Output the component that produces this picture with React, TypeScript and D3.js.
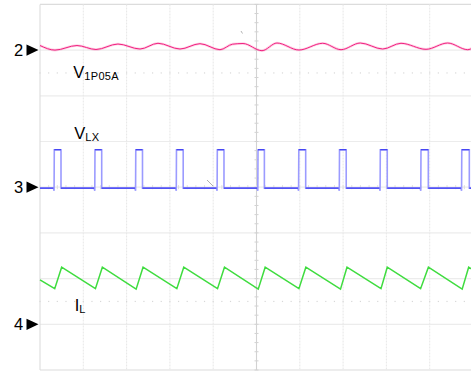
import React from "react";
import * as d3 from "d3";

// Screen: 10 horizontal divisions, 8 vertical divisions (values in divisions)
const channelLabels = ["2", "3", "4"];
const channelOffsets = [3, 0, -3];

// V1P05A ripple (pink) – extremes, relative to ch2 offset
const vOutTimes = [0, 0.346, 0.854, 1.293, 1.8, 2.31, 2.725, 3.233, 3.695, 4.157, 4.45, 4.688, 5.127, 5.473, 5.98, 6.529, 6.952, 7.397, 7.915, 8.337, 8.915, 9.415, 9.878, 10];
const vOutValues = [0.1, 0.0, 0.1, 0.013, 0.133, 0.024, 0.149, 0.024, 0.14, 0.009, 0.13, 0.144, -0.013, 0.155, 0.002, 0.149, 0.009, 0.155, 0.024, 0.149, 0.017, 0.155, 0.009, 0.05];

// VLX switch node (blue) – pulse edges
const pulseRise = [0.33, 1.27, 2.212, 3.152, 4.095, 5.035, 5.977, 6.917, 7.859, 8.799, 9.741];
const pulseFall = [0.485, 1.425, 2.367, 3.307, 4.249, 5.182, 6.136, 7.072, 8.02, 8.968, 9.915];
const vlxHigh = 0.82;
const vlxLow = -0.02;
const vlxDip = -0.08;

// IL inductor current (green) – triangle vertices relative to ch4 offset
const ilTimes = [0, 0.34, 0.5, 1.28, 1.44, 2.22, 2.38, 3.16, 3.32, 4.1, 4.26, 5.04, 5.2, 5.98, 6.14, 6.94, 7.09, 7.875, 8.02, 8.79, 8.97, 9.75, 9.9, 10];
const ilValues = [0.97, 0.78, 1.25, 0.78, 1.25, 0.77, 1.25, 0.78, 1.25, 0.78, 1.25, 0.77, 1.25, 0.78, 1.25, 0.77, 1.25, 0.78, 1.25, 0.78, 1.25, 0.77, 1.25, 1.19];

const traceLabels = [
  { main: "V", sub: "1P05A", x: 0.77, y: 2.4 },
  { main: "V", sub: "LX", x: 0.79, y: 1.05 },
  { main: "I", sub: "L", x: 0.8, y: -2.71 },
];

const FONT = "'Liberation Sans', Arial, Helvetica, sans-serif";

export default function App() {
  const W = 471;
  const H = 371;
  const x = d3.scaleLinear().domain([0, 10]).range([40, 473]);
  const y = d3.scaleLinear().domain([-4, 4]).range([370, 4.4]);

  const line = d3
    .line<[number, number]>()
    .x((d) => x(d[0]))
    .y((d) => y(d[1]));

  const vOutPts: [number, number][] = vOutTimes.map((t, i) => [t, vOutValues[i] + channelOffsets[0]]);
  const vOutPath = d3
    .line<[number, number]>()
    .x((d) => x(d[0]))
    .y((d) => y(d[1]))
    .curve(d3.curveMonotoneX)(vOutPts) as string;

  const o3 = channelOffsets[1];
  const vlxPts: [number, number][] = [[0, vlxLow + o3]];
  pulseRise.forEach((r, i) => {
    const f = pulseFall[i];
    vlxPts.push([r - 0.02, vlxLow + o3]);
    vlxPts.push([r - 0.005, vlxDip + o3]);
    vlxPts.push([r, vlxHigh + o3]);
    vlxPts.push([f, vlxHigh + o3]);
    vlxPts.push([f, vlxLow + o3]);
  });
  vlxPts.push([10, vlxLow + o3]);
  const vlxPath = line(vlxPts) as string;

  const vlxLowSegs: [number, number][][] = [];
  let prev = 0;
  pulseRise.forEach((r, i) => {
    vlxLowSegs.push([[prev, vlxLow + o3], [r - 0.02, vlxLow + o3]]);
    prev = pulseFall[i];
  });
  vlxLowSegs.push([[prev, vlxLow + o3], [10, vlxLow + o3]]);
  const vlxHighSegs: [number, number][][] = pulseRise.map((r, i) => [
    [r, vlxHigh + o3],
    [pulseFall[i], vlxHigh + o3],
  ]);

  const ilPts: [number, number][] = ilTimes.map((t, i) => [t, ilValues[i] + channelOffsets[2]]);
  const ilPath = line(ilPts) as string;

  const vLines = d3.range(0, 11);
  const hLines = d3.range(-4, 5);
  const minor = d3.range(0, 10.01, 0.2);
  const minorV = d3.range(-4, 4.01, 0.2);
  const dottedRows = [2.5, -2.5];

  return (
    <svg
      width={W}
      height={H}
      viewBox={`0 0 ${W} ${H}`}
      style={{ position: "fixed", left: 0, top: 0, background: "#fff" }}
    >
      <rect x={0} y={0} width={W} height={H} fill="#fff" />
      {/* grid */}
      {hLines.map((h) => (
        <line key={"h" + h} x1={x(0)} x2={x(10)} y1={y(h)} y2={y(h)} stroke={h === 4 || h === -4 ? "#dcdcdc" : "#ececec"} strokeWidth={1.2} />
      ))}
      {vLines.map((v) => (
        <line
          key={"v" + v}
          x1={x(v)}
          x2={x(v)}
          y1={y(4)}
          y2={y(-4)}
          stroke={v === 0 ? "#dcdcdc" : v === 5 ? "#d2d2d2" : "#e9e9e9"}
          strokeWidth={1.1}
          strokeDasharray={v === 0 || v === 5 ? undefined : "2 1"}
        />
      ))}
      {dottedRows.map((r) =>
        minor.map((m) => (
          <rect key={"d" + r + "_" + m} x={x(m) - 0.6} y={y(r) - 0.6} width={1.2} height={1.2} fill="#d8d8d8" />
        ))
      )}
      {minorV.map((m) => (
        <line key={"t" + m} x1={x(5) - 2} x2={x(5) + 2} y1={y(m)} y2={y(m)} stroke="#d2d2d2" strokeWidth={1} />
      ))}
      {minor.map((m) => (
        <line key={"th" + m} x1={x(m)} x2={x(m)} y1={y(0) - 2} y2={y(0) + 2} stroke="#dddddd" strokeWidth={1} />
      ))}

      {/* small cursor artifacts */}
      <line x1={207} y1={180} x2={213} y2={186} stroke="#9a9a9a" strokeWidth={0.8} />
      <line x1={241} y1={31} x2={242.5} y2={33.5} stroke="#a0a0a0" strokeWidth={0.8} />

      {/* traces */}
      <path d={vOutPath} fill="none" stroke="#ff7ab8" strokeOpacity={0.35} strokeWidth={2.6} />
      <path d={vOutPath} fill="none" stroke="#f0207f" strokeWidth={1} />

      <path d={vlxPath} fill="none" stroke="#9b9bff" strokeWidth={1.6} />
      {vlxLowSegs.concat(vlxHighSegs).map((s, i) => (
        <path key={"s" + i} d={line(s) as string} fill="none" stroke="#3a3af2" strokeWidth={1.2} />
      ))}

      <path d={ilPath} fill="none" stroke="#3fdc3f" strokeWidth={1.5} />

      {/* channel markers */}
      {channelLabels.map((c, i) => {
        const yy = y(channelOffsets[i]);
        return (
          <g key={"c" + c}>
            <text x={14} y={yy + 5.8} fontFamily={FONT} fontSize={16.5} fill="#000">
              {c}
            </text>
            <path d={`M26.5,${yy - 5.6}L38.5,${yy}L26.5,${yy + 5.6}Z`} fill="#000" />
          </g>
        );
      })}

      {/* trace labels */}
      {traceLabels.map((l, i) => (
        <text key={"l" + i} x={x(l.x)} y={y(l.y)} fontFamily={FONT} fontSize={16.5} fill="#000">
          {l.main}
          <tspan fontSize={11} dy={2} letterSpacing={0.3}>
            {l.sub}
          </tspan>
        </text>
      ))}
    </svg>
  );
}
